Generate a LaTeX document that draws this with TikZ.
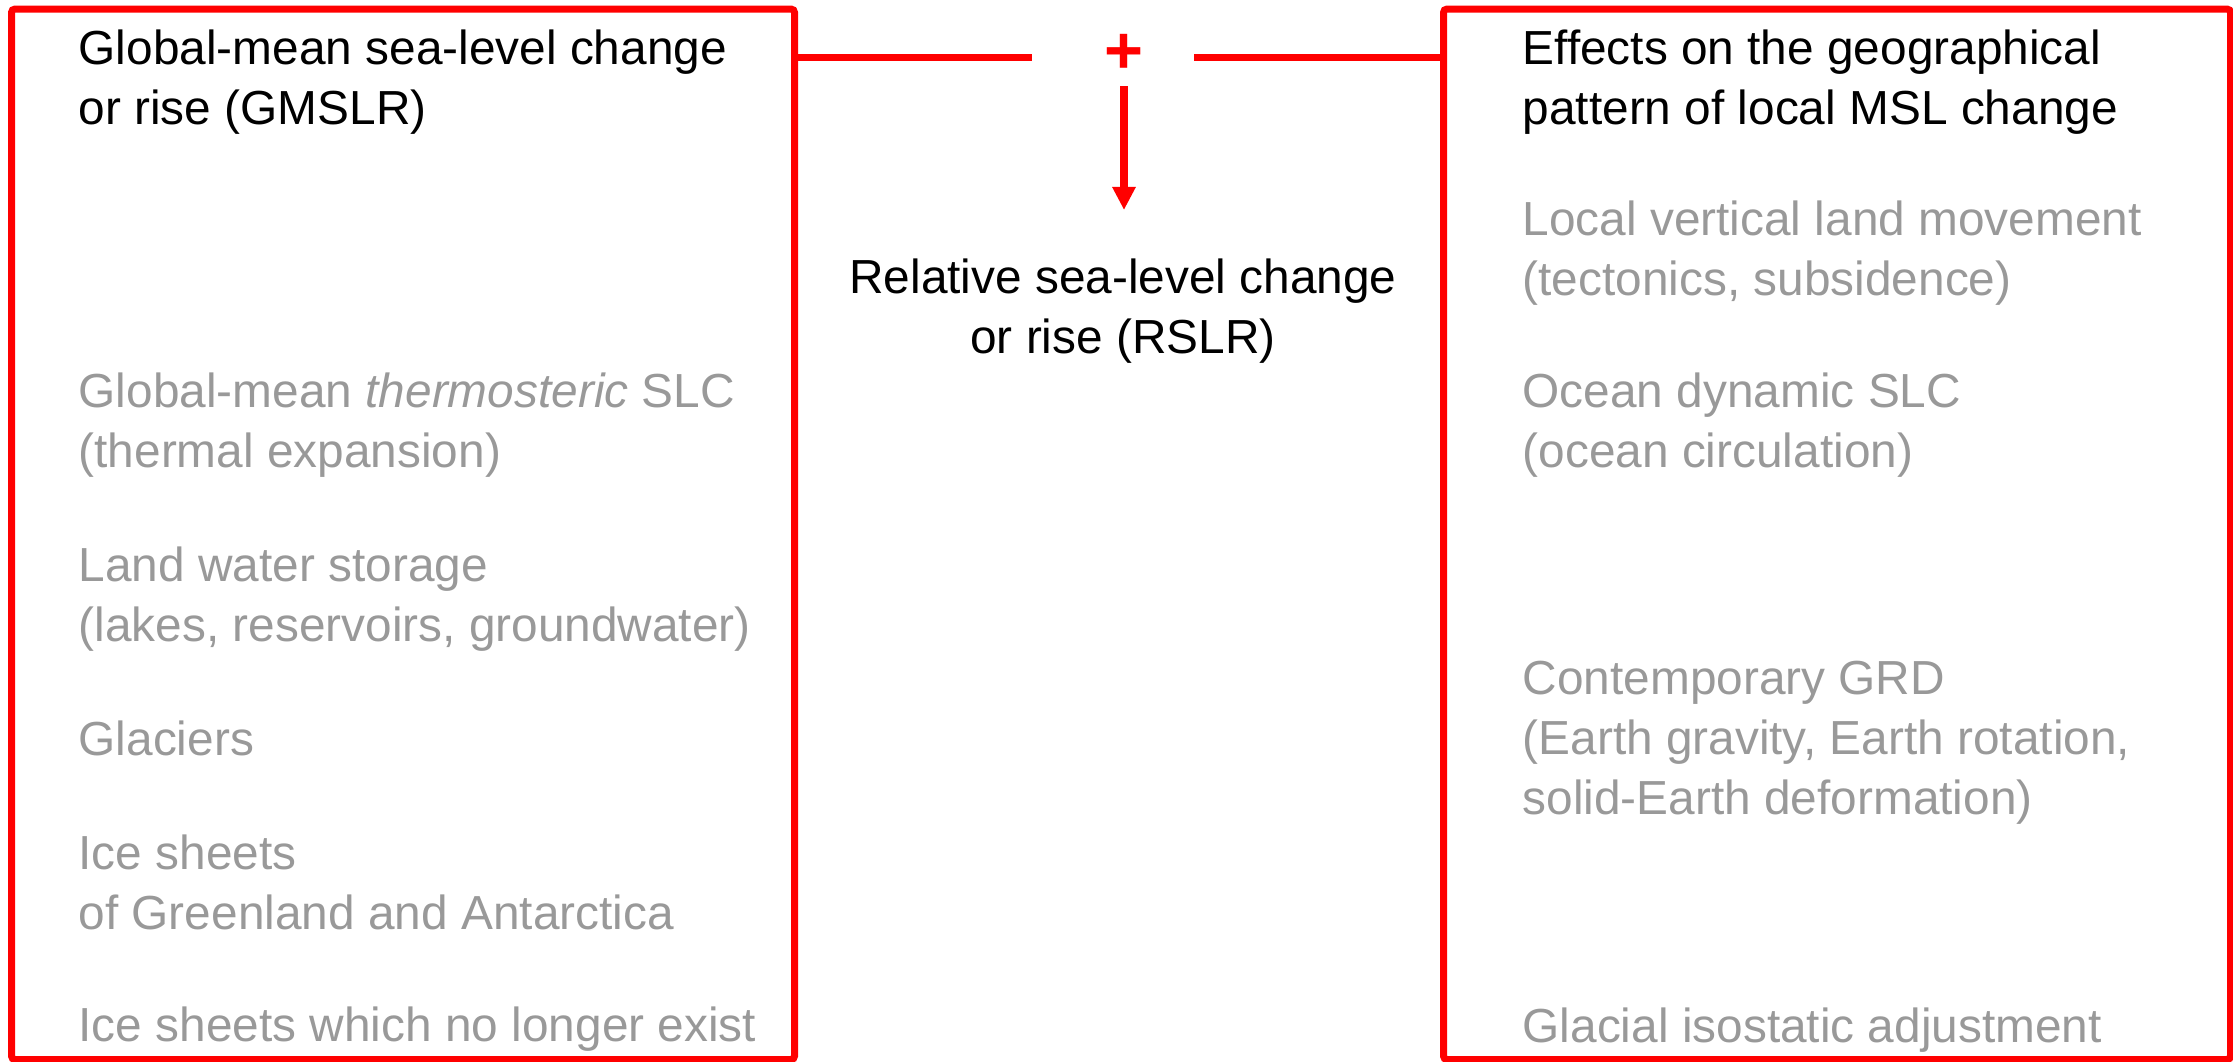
\documentclass[tikz,border=0pt]{standalone}
\usepackage[HTML]{xcolor}
\usepackage{fontspec}
\setmainfont{Liberation Sans}
\usepackage{tikz}
\usetikzlibrary{positioning, arrows.meta}

\definecolor{slred}{HTML}{FF0000}
\definecolor{slgrey}{HTML}{999999}

\begin{document}
\begin{tikzpicture}[
    panel/.style={draw=slred, line width=2pt, rounded corners=1pt, anchor=north west, inner sep=0pt},
    redline/.style={draw=slred, line width=2.2pt},
    maintext/.style={text=black, align=left, anchor=west, inner sep=0pt, font=\fontsize{13.6}{17.1}\selectfont},
    subtext/.style={maintext, text=slgrey}
]
\useasboundingbox (0,0) rectangle (22.33,-10.61);

% the two panels
\node[panel, minimum width=7.83cm, minimum height=10.505cm] (gmslrbox) at (0.08,-0.055) {};
\node[panel, minimum width=7.87cm, minimum height=10.505cm] (localbox) at (14.40,-0.055) {};

% left column
\node[maintext] (gmslr) at (0.78,-0.82) {Global-mean sea-level change\\or rise (GMSLR)};
\node[subtext] (thermo) at (0.78,-4.25) {Global-mean \textit{thermosteric} SLC\\(thermal expansion)};
\node[subtext] (landwater) at (0.78,-5.99) {Land water storage\\(lakes, reservoirs, groundwater)};
\node[subtext] (glaciers) at (0.78,-7.38) {Glaciers};
\node[subtext] (icesheets) at (0.78,-8.82) {Ice sheets\\of Greenland and Antarctica};
\node[subtext] (pastice) at (0.78,-10.29) {Ice sheets which no longer exist};

% right column
\node[maintext] (effects) at (15.22,-0.82) {Effects on the geographical\\pattern of local MSL change};
\node[subtext] (vlm) at (15.22,-2.53) {Local vertical land movement\\(tectonics, subsidence)};
\node[subtext] (dynamic) at (15.22,-4.25) {Ocean dynamic SLC\\(ocean circulation)};
\node[subtext] (grd) at (15.22,-7.43) {Contemporary GRD\\(Earth gravity, Earth rotation,\\solid-Earth deformation)};
\node[subtext] (gia) at (15.22,-10.30) {Glacial isostatic adjustment};

% sum of both parts
\node[text=slred, inner sep=0pt, font=\fontsize{19}{21}\selectfont\bfseries] (plus) at (11.24,-0.54) {+};
\node[maintext, align=center, anchor=center] (rslr) at (11.23,-3.11) {Relative sea-level change\\or rise (RSLR)};

\draw[redline] (gmslrbox.east |- 0,-0.575) -- ([xshift=-0.92cm]plus.center |- 0,-0.575);
\draw[redline] ([xshift=0.70cm]plus.center |- 0,-0.575) -- (localbox.west |- 0,-0.575);
\draw[redline, -{Triangle[width=0.22cm, length=0.23cm]}, shorten <=0.12cm, shorten >=0.48cm]
    (plus.south) -- (plus.south |- rslr.north);
\end{tikzpicture}
\end{document}
